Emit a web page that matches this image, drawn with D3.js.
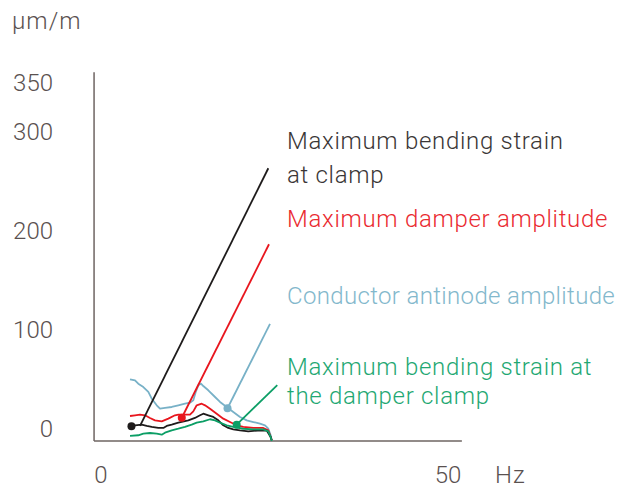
<!DOCTYPE html>
<html lang="en">
<head>
<meta charset="UTF-8">
<title>Damper response</title>
<script src="https://cdn.jsdelivr.net/npm/d3@7"></script>
<style>
  body { margin: 0; background: #fff; }
  svg text { font-family: Roboto, "Noto Sans", sans-serif; font-weight: 300; }
</style>
</head>
<body>
<svg width="631" height="489"></svg>
<script>
// frequency (Hz) / value (µm/m)
var blueHz  = [4.18,4.90,5.37,6.10,6.82,7.31,8.03,8.50,9.22,10.19,11.14,12.10,12.82,13.30,13.65,14.02,14.41,14.74,15.46,16.43,17.15,18.11,19.06,20.03,21.00,21.95,22.91,23.63,24.11,24.45,24.60];
var blueVal = [62.4,61.4,58.0,54.6,49.6,42.8,36.1,32.7,33.4,34.4,36.1,37.7,38.7,41.2,49.6,56.3,58.0,55.6,51.3,44.5,39.5,34.4,29.3,24.3,20.9,19.2,17.5,15.9,12.4,5.8,0.7];

var redHz  = [4.18,4.90,5.62,6.34,7.06,7.78,8.75,9.70,10.66,11.14,12.35,12.82,13.30,13.79,14.51,14.99,15.71,16.67,17.62,18.59,19.55,20.50,21.95,23.39,24.11,24.45,24.60];
var redVal = [25.3,26.0,26.6,26.0,23.3,20.9,19.9,22.6,26.0,26.6,26.6,26.6,30.0,36.1,37.7,36.1,32.7,27.6,22.6,19.2,15.9,14.2,13.2,13.2,10.8,4.0,0.7];

var blackHz  = [4.32,4.90,5.86,6.59,7.31,8.26,8.98,9.47,10.19,11.14,12.58,13.54,14.27,14.74,15.46,16.18,16.90,17.62,18.34,19.06,20.03,21.22,22.60,23.90,24.45,24.60];
var blackVal = [15.2,15.9,16.5,15.2,14.2,13.2,13.2,15.2,16.5,18.5,20.9,23.3,26.0,27.6,26.0,24.3,20.9,15.9,13.2,11.8,10.8,9.8,10.6,10.4,4.0,0.7];

var greenHz  = [4.18,5.37,6.10,7.06,8.03,8.75,9.22,10.19,11.14,12.10,13.07,13.79,14.74,15.71,16.43,17.15,18.11,19.06,20.50,21.95,23.39,24.11,24.45,24.60];
var greenVal = [5.1,5.8,7.4,8.1,7.4,6.4,8.4,10.8,12.4,14.2,16.5,18.5,19.9,22.0,20.9,18.5,15.9,14.2,12.4,11.8,11.8,9.8,4.0,0.0];

// callouts: dot on curve, leader start and leader end (Hz, value)
var calloutNames = ["black", "red", "blue", "green"];
var dotHz    = [4.39, 11.64, 18.23, 19.55];
var dotVal   = [14.9, 23.5, 33.1, 16.5];
var leadHz0  = [5.62, 11.64, 18.23, 19.55];
var leadVal0 = [15.2, 23.5, 33.1, 16.5];
var leadHz1  = [24.11, 24.21, 24.35, 25.40];
var leadVal1 = [275.9, 199.0, 118.4, 56.6];

var yTicks = [0, 100, 200, 300, 350];
var xTicks = [0, 50];

var lineColor = {black: "#1e1b1b", red: "#e8161e", blue: "#78b1c7", green: "#0b9e65"};
var textColor = {black: "#3a3636", red: "#ea2a30", blue: "#83b8cc", green: "#1fa873"};

var svg = d3.select("svg");
var x = d3.scaleLinear().domain([0, 50]).range([101, 448]);
var y = d3.scaleLinear().domain([0, 350]).range([441, 95]);

// axes
var axisColor = "#6e6462";
svg.append("line")
  .attr("x1", x(-1)).attr("x2", x(-1))
  .attr("y1", y(0)).attr("y2", y(373))
  .attr("stroke", axisColor).attr("stroke-width", 1.5);
svg.append("line")
  .attr("x1", x(-1)).attr("x2", x(52))
  .attr("y1", y(0)).attr("y2", y(0))
  .attr("stroke", axisColor).attr("stroke-width", 1.5);

svg.selectAll(".ytick")
  .data(yTicks)
  .enter().append("text")
  .attr("class", "ytick")
  .attr("x", 53).attr("y", function(d){ return y(d) - 4; })
  .attr("text-anchor", "end")
  .attr("font-size", 24)
  .attr("fill", "#5a5150")
  .text(function(d){ return d; });

svg.selectAll(".xtick")
  .data(xTicks)
  .enter().append("text")
  .attr("class", "xtick")
  .attr("x", function(d){ return x(d); }).attr("y", 483)
  .attr("text-anchor", "middle")
  .attr("font-size", 24)
  .attr("fill", "#5a5150")
  .text(function(d){ return d; });

svg.append("text").attr("x", 495).attr("y", 483)
  .attr("font-size", 24).attr("fill", "#5a5150").attr("letter-spacing", 1)
  .text("Hz");
svg.append("text").attr("x", 12).attr("y", 29)
  .attr("font-size", 24).attr("fill", "#5a5150").attr("letter-spacing", 1)
  .text("µm/m");

// curves
var line = d3.line()
  .x(function(d){ return x(d[0]); })
  .y(function(d){ return y(d[1]); });

var series = [
  {name: "blue",  hz: blueHz,  v: blueVal},
  {name: "red",   hz: redHz,   v: redVal},
  {name: "black", hz: blackHz, v: blackVal},
  {name: "green", hz: greenHz, v: greenVal}
];
series.forEach(function(s){
  svg.append("path")
    .datum(d3.zip(s.hz, s.v))
    .attr("d", line)
    .attr("fill", "none")
    .attr("stroke", lineColor[s.name])
    .attr("stroke-width", 1.8)
    .attr("stroke-linejoin", "round");
});

// leaders and dots
calloutNames.forEach(function(n, i){
  svg.append("line")
    .attr("x1", x(leadHz0[i])).attr("y1", y(leadVal0[i]))
    .attr("x2", x(leadHz1[i])).attr("y2", y(leadVal1[i]))
    .attr("stroke", lineColor[n]).attr("stroke-width", 1.8);
  svg.append("circle")
    .attr("cx", x(dotHz[i])).attr("cy", y(dotVal[i]))
    .attr("r", 4)
    .attr("fill", lineColor[n]);
});

// labels
var labels = [
  {name: "black", lines: ["Maximum bending strain", "at clamp"], y0: 149, dy: 34, ls: 0.7},
  {name: "red",   lines: ["Maximum damper amplitude"], y0: 227, dy: 0, ls: 0.7},
  {name: "blue",  lines: ["Conductor antinode amplitude"], y0: 304, dy: 0, ls: 0.35},
  {name: "green", lines: ["Maximum bending strain at", "the damper clamp"], y0: 375, dy: 28.5, ls: 0.7}
];
labels.forEach(function(l){
  l.lines.forEach(function(t, j){
    svg.append("text")
      .attr("x", 287).attr("y", l.y0 + j * l.dy)
      .attr("font-size", 24)
      .attr("letter-spacing", l.ls)
      .attr("fill", textColor[l.name])
      .text(t);
  });
});
</script>
</body>
</html>
